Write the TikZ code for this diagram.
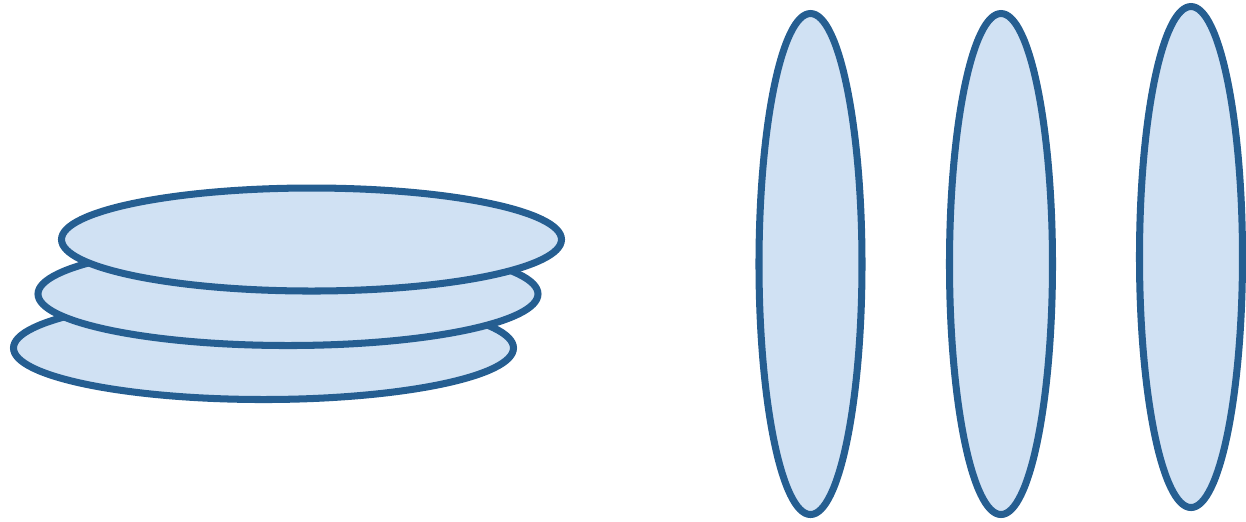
\documentclass[tikz,border=0pt]{standalone}
\usepackage{tikz}
\usetikzlibrary{shapes.geometric}

\definecolor{rimblue}{HTML}{255E91}
\definecolor{fillblue}{HTML}{D0E1F3}

\tikzset{
  disc/.style={ellipse, draw=rimblue, fill=fillblue, line width=2pt, inner sep=0pt},
  flat/.style={disc, minimum width=5.0cm, minimum height=1.03cm},
  upright/.style={disc, minimum width=1.03cm, minimum height=5.01cm}
}

\begin{document}
\begin{tikzpicture}
    \useasboundingbox (0,0) rectangle (12.46,-5.21);

    % stacked, lying flat
    \node[flat] (low) at (2.635,-3.48) {};
    \node[flat] (mid) at (2.88,-2.94) {};
    \node[flat] (top) at (3.115,-2.395) {};

    % standing side by side
    \node[upright] (first) at (8.105,-2.64) {};
    \node[upright] (second) at (10.01,-2.64) {};
    \node[upright] (third) at (11.91,-2.57) {};
  \end{tikzpicture}
\end{document}
